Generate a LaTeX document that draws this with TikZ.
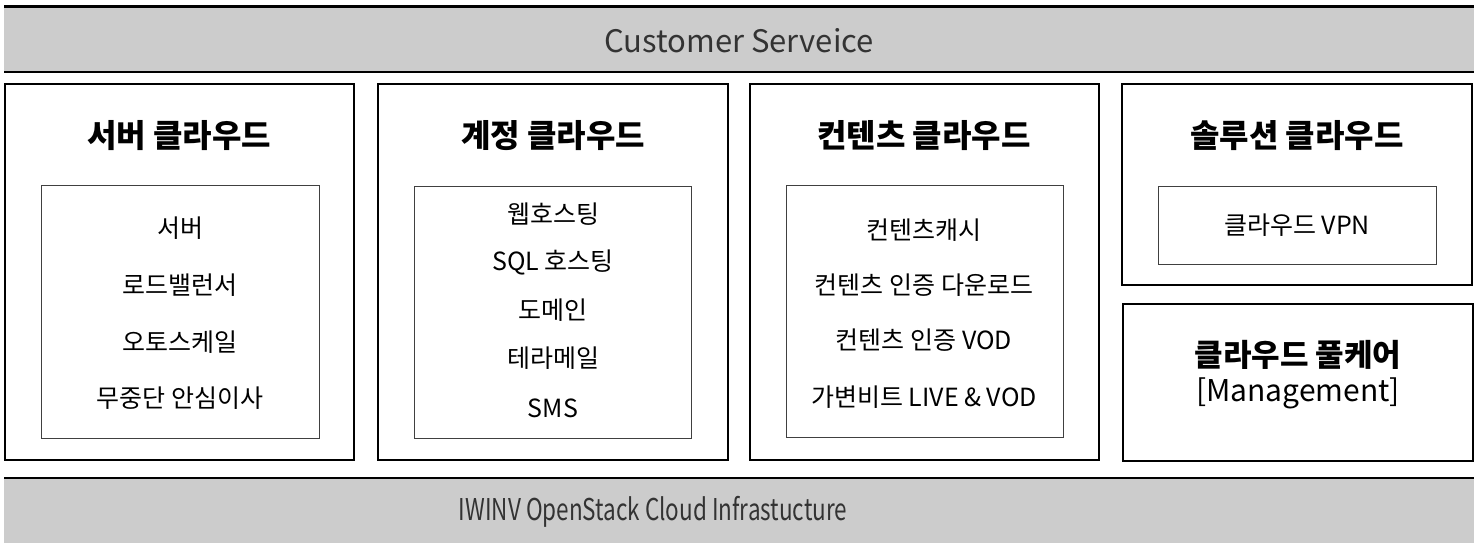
\documentclass[tikz,border=0pt]{standalone}
\usepackage{fontspec}
\setmainfont{Noto Sans CJK KR}
\newfontfamily\bandfont[FakeStretch=0.75]{Noto Sans CJK KR}
\definecolor{bandgray}{HTML}{CCCCCC}
\definecolor{txtgray}{HTML}{333333}
\begin{document}
\begin{tikzpicture}[x=1pt,y=-1pt,
  outerbox/.style={draw=black,line width=2pt,fill=none},
  innerbox/.style={draw=black!75,line width=1pt},
  heading/.style={font=\fontsize{32}{36}\selectfont\bfseries,text=black},
  item/.style={font=\fontsize{25}{28}\selectfont,text=black},
  toptext/.style={font=\fontsize{31}{34}\selectfont,text=txtgray},
  bandtext/.style={font=\bandfont\fontsize{30}{34}\selectfont,text=txtgray}]
\useasboundingbox (0,0) rectangle (1483,543);
% top band
\fill[bandgray] (4,7) rectangle (1474,72);
\draw[line width=3pt] (4,6.5) -- (1474,6.5);
\draw[line width=1.2pt] (4,72) -- (1474,72);
\node[toptext] (cs) at (739,41) {Customer Serveice};
% bottom band
\fill[bandgray] (4,478) rectangle (1474,543);
\draw[line width=1.2pt] (4,478) -- (1474,478);
\node[bandtext] (iw) at (653,512) {IWINV OpenStack Cloud Infrastucture};
% box 1
\draw[outerbox] (5,84) rectangle (354,460);
\draw[innerbox] (41,185) rectangle (319,438);
\node[heading] (h1) at (179,136) {서버 클라우드};
\node[item] (a1) at (180,228) {서버};
\node[item] (a2) at (180,285) {로드밸런서};
\node[item] (a3) at (180,342) {오토스케일};
\node[item] (a4) at (180,398) {무중단 안심이사};
% box 2
\draw[outerbox] (378,84) rectangle (728,460);
\draw[innerbox] (414,186) rectangle (691,438);
\node[heading] (h2) at (553,136) {계정 클라우드};
\node[item] (b1) at (553,214) {웹호스팅};
\node[item] (b2) at (553,262) {SQL 호스팅};
\node[item] (b3) at (553,310) {도메인};
\node[item] (b4) at (553,358) {테라메일};
\node[item] (b5) at (553,408) {SMS};
% box 3
\draw[outerbox] (750,84) rectangle (1099,460);
\draw[innerbox] (786,185) rectangle (1063,437);
\node[heading] (h3) at (924,136) {컨텐츠 클라우드};
\node[item] (c1) at (924,230) {컨텐츠캐시};
\node[item] (c2) at (924,285) {컨텐츠 인증 다운로드};
\node[item] (c3) at (924,340) {컨텐츠 인증 VOD};
\node[item] (c4) at (924,397) {가변비트 LIVE \& VOD};
% box 4
\draw[outerbox] (1122,84) rectangle (1472,285);
\draw[innerbox] (1158,186) rectangle (1436,264);
\node[heading] (h4) at (1297,136) {솔루션 클라우드};
\node[item] (d1) at (1297,225) {클라우드 VPN};
% box 5
\draw[outerbox] (1123,304) rectangle (1473,461);
\node[heading,align=center,font=\fontsize{31}{35}\selectfont\bfseries] (h5) at (1298,375) {클라우드 풀케어\\{\mdseries\fontsize{30}{35}\selectfont[Management]}};
\end{tikzpicture}
\end{document}
